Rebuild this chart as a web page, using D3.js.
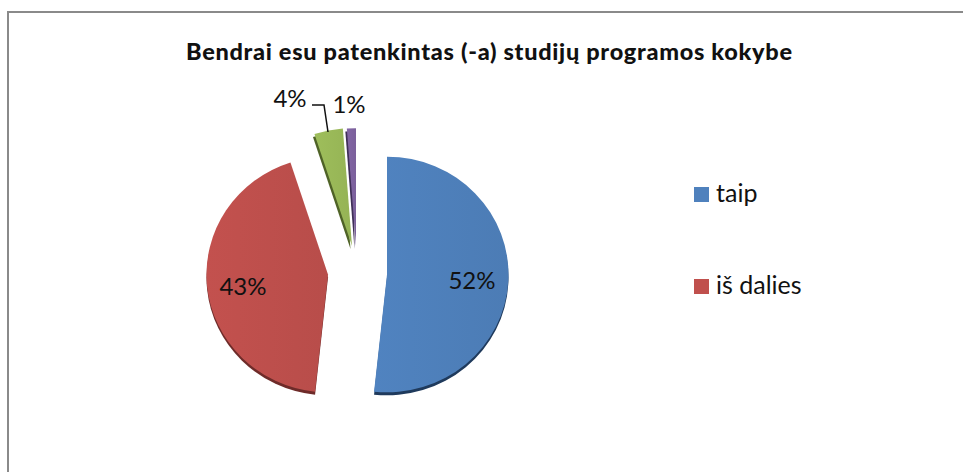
<!DOCTYPE html>
<html><head><meta charset="utf-8">
<script src="https://cdn.jsdelivr.net/npm/d3@7/dist/d3.min.js"></script>
<style>html,body{margin:0;padding:0;background:#fff}svg{display:block}text{font-family:Lato,"Open Sans",sans-serif;fill:#111}</style>
</head><body><svg id="c" width="963" height="472"></svg>
<script>
const categories = ["taip", "iš dalies", "", ""];
const values = [51.7, 43.3, 3.8, 1.2];
const colors = ["#4f81bd", "#c0504d", "#9bbb59", "#8064a2"];
const shades = ["#1f3a5c", "#6e2b29", "#4f6327", "#3f2f57"];
const centers = [[387, 274.5], [328, 274.5], [352, 246], [356, 246]];
const titleText = "Bendrai esu patenkintas (-a) studijų programos kokybe";

const svg = d3.select("#c");
svg.append("rect").attr("x", 8).attr("y", 12).attr("width", 970).attr("height", 480)
  .attr("fill", "#fff").attr("stroke", "#8a8a8a").attr("stroke-width", 2);

const defs = svg.append("defs");
colors.forEach((c, i) => {
  const g = defs.append("linearGradient").attr("id", "g" + i);
  g.append("stop").attr("offset", "0").attr("stop-color", d3.color(c).brighter(0.05));
  g.append("stop").attr("offset", "1").attr("stop-color", d3.color(c).darker(0.12));
});

const pie = d3.pie().sort(null).value(d => d);
const arcs = pie(values);
const arc = d3.arc().innerRadius(0).outerRadius(121.5);
const g = svg.append("g");
arcs.forEach((a, i) => {
  const t = `translate(${centers[i][0]},${centers[i][1]}) scale(1,0.97)`;
  g.append("path").attr("d", arc(a)).attr("transform", `translate(${centers[i][0] - (i > 1 ? 1.5 : 0)},${centers[i][1] + 3}) scale(1,0.97)`).attr("fill", shades[i]);
  g.append("path").attr("d", arc(a)).attr("transform", t).attr("fill", `url(#g${i})`);
});

svg.append("text").attr("x", 489).attr("y", 59.5).attr("text-anchor", "middle")
  .attr("font-size", 23.5).attr("font-weight", 900)
  .attr("textLength", 606).attr("lengthAdjust", "spacing").text(titleText);

const fmt = d3.format(".0%");
const pos = [[472, 289], [243, 295], [290, 107], [349, 113]];
values.forEach((v, i) => svg.append("text").attr("x", pos[i][0]).attr("y", pos[i][1])
  .attr("text-anchor", "middle").attr("font-size", 24).text(fmt(v / 100)));

const line = d3.line();
svg.append("path").attr("d", line([[312, 105], [324, 105], [328, 132]]))
  .attr("fill", "none").attr("stroke", "#111").attr("stroke-width", 1.5);

const legY = d3.scalePoint().domain(categories.slice(0, 2)).range([195, 287]);
categories.slice(0, 2).forEach((c, i) => {
  svg.append("rect").attr("x", 694).attr("y", legY(c) - 8).attr("width", 15).attr("height", 15).attr("fill", colors[i]);
  svg.append("text").attr("x", 716).attr("y", legY(c) + 7).attr("font-size", 25).text(c);
});
</script></body></html>
